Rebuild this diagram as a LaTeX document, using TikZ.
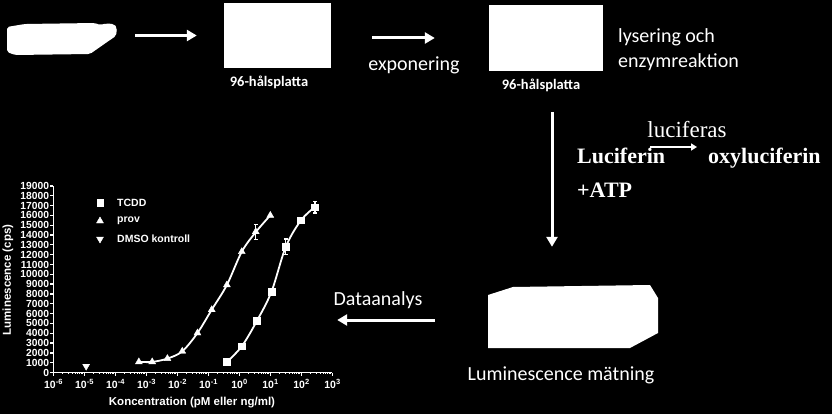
\documentclass[tikz,border=0pt]{standalone}
\usepackage{fontspec}
\setmainfont{Carlito}
\newfontfamily\serifchem{Liberation Serif}
\newfontfamily\chartfont{Liberation Sans}
\usetikzlibrary{arrows.meta,plotmarks}
\begin{document}
\begin{tikzpicture}[x=1pt,y=-1pt,
  every node/.style={text=white, inner sep=0pt},
  whitebox/.style={fill=white, draw=none},
  placeholder/.style={draw=none, fill=none},
  flowarrow/.style={draw=white, line width=3pt, -{Triangle[length=10pt,width=11pt]}},
  smallarrow/.style={draw=white, line width=2pt, -{Triangle[length=6pt,width=7pt]}},
  lbl/.style={font=\fontsize{20}{25}\selectfont},
  platelbl/.style={font=\bfseries\fontsize{14.5}{16}\selectfont},
  chem/.style={font=\serifchem\bfseries\fontsize{22}{26}\selectfont},
  chemreg/.style={font=\serifchem\fontsize{23}{26}\selectfont},
  axisline/.style={draw=white, line width=1.3pt},
  minortick/.style={draw=white, line width=0.8pt},
  ylbl/.style={font=\chartfont\bfseries\fontsize{10.3}{10}\selectfont},
  xlbl/.style={font=\chartfont\bfseries\fontsize{10.5}{10.5}\selectfont},
  ctitle/.style={font=\chartfont\bfseries\fontsize{11.5}{12}\selectfont},
  legtxt/.style={font=\chartfont\bfseries\fontsize{10.5}{11}\selectfont},
  curve/.style={draw=white, line width=1.8pt},
  errbar/.style={draw=white, line width=1.2pt},
  tcddmark/.style={only marks, mark=square*, mark size=3.3pt, mark options={fill=white, draw=white}},
  provmark/.style={only marks, mark=triangle*, mark size=4pt, mark options={fill=white, draw=white}},
  dmsomark/.style={only marks, mark=triangle*, mark size=4pt, mark options={fill=white, draw=white, rotate=180}}
]
\fill[black] (0,0) rectangle (832,414);
\useasboundingbox (0,0) rectangle (832,414);

% bottle
\fill[white, rounded corners=2pt] (7,27) -- (25,24) -- (95,23) -- (100,25) -- (106,23.5) -- (114,24) -- (117,28) -- (116,36) -- (110,40) -- (100,47) -- (90,54) -- (15,55) -- (7,52) -- cycle;
\node[placeholder, minimum width=110pt, minimum height=33pt] (bottle) at (62,39) {};

% plates
\node[whitebox, minimum width=107pt, minimum height=65pt] (box1) at (277.5,35.5) {};
\node[platelbl, anchor=base] (lbl1) at (269,87) {96-hålsplatta};
\node[whitebox, minimum width=114pt, minimum height=66pt] (box2) at (546,38) {};
\node[platelbl, anchor=base] (lbl2) at (541,90) {96-hålsplatta};

\node[lbl, anchor=base] (expo) at (414,71) {exponering};
\node[lbl, anchor=base west] (lys1) at (618,43) {lysering och};
\node[lbl, anchor=base west] (lys2) at (618,68) {enzymreaktion};

% chemistry
\node[chem, anchor=base west] (luc) at (577,164) {Luciferin};
\node[chem, anchor=base west] (oxy) at (708,164) {oxyluciferin};
\node[chemreg, anchor=base] (enz) at (687,138) {luciferas};
\node[chem, anchor=base west] (atp) at (577,197) {+ATP};
\draw[smallarrow] ([xshift=-15pt,yshift=17pt]luc.base east) -- ([xshift=-11pt,yshift=17pt]oxy.base west);

% instrument
\fill[white] (488,295) -- (513,287) -- (650,285) -- (658,298) -- (658,333) -- (630,348) -- (488,348) -- cycle;
\node[placeholder, minimum width=170pt, minimum height=63pt] (instrument) at (573,316.5) {};
\node[lbl, anchor=base] (lum) at (561,380) {Luminescence mätning};
\node[lbl, anchor=base] (data) at (378,305) {Dataanalys};

% chart placeholder
\node[placeholder, minimum width=333pt, minimum height=234pt] (chart) at (166.5,297) {};

% flow arrows
\draw[flowarrow, shorten <=18pt, shorten >=27pt] (bottle.east |- box1.west) -- (box1.west);
\draw[flowarrow, shorten <=41pt, shorten >=54pt] (box2.west -| box1.east) -- (box2.west);
\draw[flowarrow, shorten <=41pt, shorten >=38pt] ([xshift=6pt]box2.south) -- ([xshift=6pt]box2.south |- instrument.north);
\draw[flowarrow, shorten <=53pt, shorten >=4pt] ([yshift=-3.5pt]instrument.west) -- ([yshift=-3.5pt]instrument.west -| chart.east);

% chart
\begin{scope}[shift={(53.3pt,-372.5pt)}, x=31pt, y=9.82pt]
  \draw[axisline] (0,0) -- (0,19);
  \draw[axisline] (0,0) -- (9,0);
  \foreach \v in {0,...,19} {
    \draw[axisline] (0,\v) -- (-0.1,\v);
    \node[ylbl, anchor=east] at (-0.13,\v) {\ifnum\v=0 0\else\v000\fi};
  }
  \foreach \d in {0,...,9} {
    \pgfmathtruncatemacro\ex{\d-6}
    \draw[axisline] (\d,0) -- (\d,-0.35);
    \node[xlbl, anchor=base] at (\d,-1.6) {10\raisebox{3.8pt}{\fontsize{7.5}{7.5}\selectfont\ex}};
  }
  \foreach \d in {0,...,8} {
    \foreach \m in {2,...,9} {
      \draw[minortick] ({\d+log10(\m)},0) -- ++(0,-0.18);
    }
  }
  % curves
  \draw[curve] plot[smooth, tension=0.55] coordinates {(2.76,1.08) (3.19,1.08) (3.68,1.42) (4.16,2.16) (4.65,4.02) (5.11,6.39) (5.60,8.92) (6.08,12.3) (6.54,14.33) (7.0,16.0)};
  \draw[curve] plot[smooth, tension=0.55] coordinates {(5.6,1.08) (6.08,2.67) (6.57,5.27) (7.04,8.25) (7.5,12.8) (7.99,15.5) (8.44,16.85)};
  % error bars
  \draw[errbar] (7.5,12.0) -- (7.5,13.6) (7.44,12.0) -- (7.56,12.0) (7.44,13.6) -- (7.56,13.6);
  \draw[errbar] (6.53,13.57) -- (6.53,15.1) (6.47,13.57) -- (6.59,13.57) (6.47,15.1) -- (6.59,15.1);
  \draw[errbar] (8.44,16.25) -- (8.44,17.45) (8.38,16.25) -- (8.5,16.25) (8.38,17.45) -- (8.5,17.45);
  \draw[errbar] (7.99,15.2) -- (7.99,15.8) (7.93,15.2) -- (8.05,15.2) (7.93,15.8) -- (8.05,15.8);
  % markers
  \draw plot[provmark] coordinates {(2.76,1.08) (3.19,1.08) (3.68,1.42) (4.16,2.16) (4.65,4.02) (5.11,6.39) (5.60,8.92) (6.08,12.3) (6.53,14.33) (7.0,16.0)};
  \draw plot[tcddmark] coordinates {(5.6,1.08) (6.08,2.67) (6.57,5.27) (7.04,8.25) (7.5,12.8) (7.99,15.5) (8.44,16.85)};
  \draw plot[dmsomark] coordinates {(1.06,0.64)};
\end{scope}

% chart titles
\node[ctitle, rotate=90] (ytitle) at (8,280) {Luminescence (cps)};
\node[ctitle] (xtitle) at (192,403) {Koncentration (pM eller ng/ml)};

% legend
\draw plot[tcddmark] coordinates {(100,203)};
\draw plot[provmark] coordinates {(100,221)};
\draw plot[dmsomark] coordinates {(100,239)};
\node[legtxt, anchor=west] (leg1) at (117,203) {TCDD};
\node[legtxt, anchor=west] (leg2) at (117,221) {prov};
\node[legtxt, anchor=west] (leg3) at (117,239) {DMSO kontroll};
\end{tikzpicture}
\end{document}
